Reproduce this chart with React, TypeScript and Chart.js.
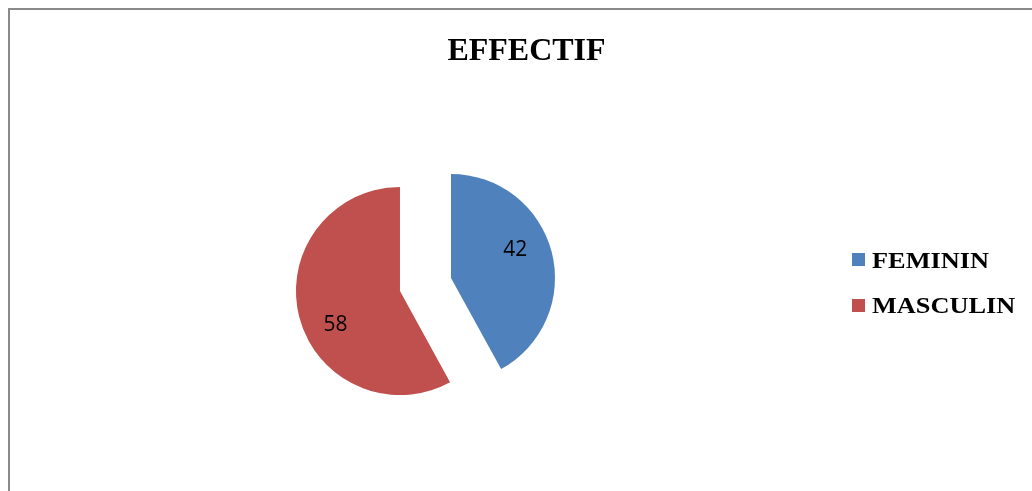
import React, { useEffect, useRef } from 'react';
import { Chart, registerables } from 'chart.js';

Chart.register(...registerables);

const chartTitle = 'EFFECTIF';
const categories = ['FEMININ', 'MASCULIN'];
const values = [42, 58];
const sliceColors = ['#4F81BD', '#C0504D'];

function arcGeometry(arc: any) {
  const p = arc.getProps(['x', 'y', 'startAngle', 'endAngle', 'outerRadius', 'circumference'], true);
  const off = (arc.options.offset || 0) / 4;
  const fix = 1 - Math.sin(Math.min(Math.PI, p.circumference));
  return { p, off, radiusOffset: off * fix };
}

const overlayPlugin = {
  id: 'overlay',
  // Chart.js trims each exploded arc by offset/PI of arc length; undo that so slice edges stay true.
  afterDatasetsUpdate(chart: any) {
    const meta = chart.getDatasetMeta(0);
    meta.data.forEach((arc: any) => {
      const { p, radiusOffset } = arcGeometry(arc);
      const ro = p.outerRadius + radiusOffset;
      const d = radiusOffset / (2 * Math.PI * ro);
      arc.startAngle = p.startAngle - d;
      arc.endAngle = p.endAngle + d;
    });
  },
  afterDatasetsDraw(chart: any) {
    const ctx = chart.ctx as CanvasRenderingContext2D;
    const meta = chart.getDatasetMeta(0);
    const ds = chart.data.datasets[0];
    ctx.save();
    ctx.font = '21px "Open Sans"';
    ctx.fillStyle = '#000';
    ctx.textAlign = 'center';
    ctx.textBaseline = 'middle';
    meta.data.forEach((arc: any, i: number) => {
      const { p, off, radiusOffset } = arcGeometry(arc);
      const half = (p.startAngle + p.endAngle) / 2;
      const r = p.outerRadius + radiusOffset;
      const ax = p.x + Math.cos(half) * off;
      const ay = p.y + Math.sin(half) * off;
      const a = half - 0.192;
      ctx.fillText(String(ds.data[i]), ax + Math.cos(a) * r * 0.685, ay + Math.sin(a) * r * 0.685 + 3);
    });
    ctx.restore();
  },
  afterDraw(chart: any) {
    const ctx = chart.ctx as CanvasRenderingContext2D;
    const ds = chart.data.datasets[0];
    ctx.save();
    // title
    ctx.font = 'bold 32px "Liberation Serif"';
    ctx.fillStyle = '#000';
    ctx.textAlign = 'center';
    ctx.textBaseline = 'alphabetic';
    ctx.fillText(chartTitle, 516.5, 50);
    // legend
    const labels: string[] = chart.data.labels;
    labels.forEach((lab, i) => {
      const boxTop = 243 + i * 46;
      ctx.fillStyle = ds.backgroundColor[i];
      ctx.fillRect(842, boxTop, 13, 13);
      ctx.save();
      ctx.translate(862, 257.7 + i * 45);
      ctx.scale(1.145, 1);
      ctx.font = 'bold 23px "Liberation Serif"';
      ctx.fillStyle = '#000';
      ctx.textAlign = 'left';
      ctx.textBaseline = 'alphabetic';
      ctx.fillText(lab, 0, 0);
      ctx.restore();
    });
    ctx.restore();
  },
};

export default function App() {
  const ref = useRef<HTMLCanvasElement>(null);
  useEffect(() => {
    const chart = new Chart(ref.current!, {
      type: 'pie',
      data: {
        labels: categories,
        datasets: [
          {
            data: values,
            backgroundColor: sliceColors,
            borderWidth: 0,
            offset: [138.8, 72],
            radius: 86,
          } as any,
        ],
      },
      options: {
        responsive: false,
        animation: false,
        events: [],
        layout: { padding: { left: 0, right: 207.2, top: 72.2, bottom: 0 } },
        plugins: {
          legend: { display: false },
          title: { display: false },
          tooltip: { enabled: false },
        },
      } as any,
      plugins: [overlayPlugin],
    });
    return () => chart.destroy();
  }, []);
  return (
    <div
      style={{
        position: 'fixed',
        left: 8,
        top: 8,
        width: 1024,
        height: 483,
        boxSizing: 'border-box',
        borderLeft: '2px solid #8a8a8a',
        borderTop: '2px solid #8a8a8a',
        background: '#fff',
      }}
    >
      <canvas ref={ref} width={1022} height={481} style={{ display: 'block', width: 1022, height: 481 }} />
    </div>
  );
}
